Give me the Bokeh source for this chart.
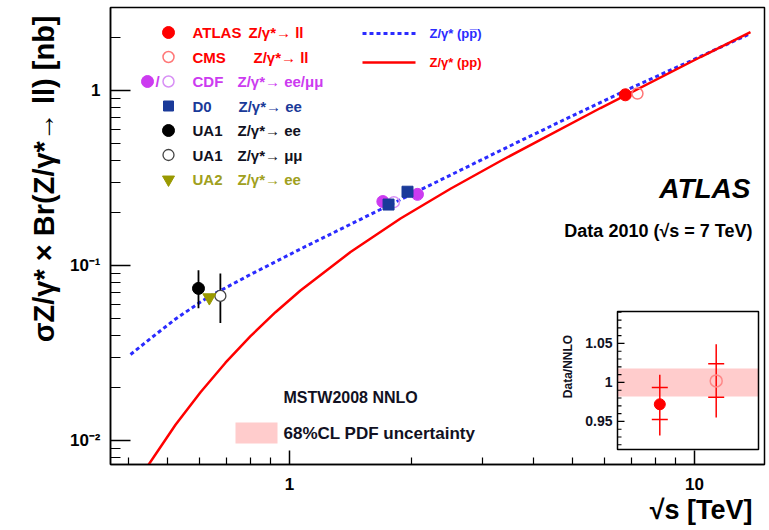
import math
from bokeh.plotting import figure
from bokeh.models import Range1d, LinearScale, FixedTicker, Title
from bokeh.core.properties import value
from bokeh.embed import file_html
from bokeh.resources import INLINE

# ---------------- data ----------------
# MSTW2008 NNLO theory: sqrt(s) [TeV] vs sigma x BR [nb]
ppbar_sqrts = [0.405, 0.4537, 0.5231, 0.6029, 0.6347, 0.8012, 1.0645, 1.776, 2.360, 3.319, 4.669, 6.754, 9.775, 13.75]
ppbar_xsec = [0.0310, 0.03827, 0.04947, 0.06185, 0.0666, 0.08884, 0.1243, 0.2232, 0.3080, 0.4542, 0.6650, 1.00, 1.474, 2.117]
pp_sqrts = [0.4456, 0.5231, 0.6029, 0.6950, 0.8012, 0.9235, 1.0645, 1.4148, 1.880, 2.498, 3.319, 5.862, 10.35, 13.75]
pp_xsec = [0.0071, 0.01231, 0.01888, 0.02784, 0.03945, 0.05408, 0.07197, 0.1194, 0.1856, 0.2746, 0.3956, 0.7943, 1.554, 2.159]

# measurements
atlas_x, atlas_y = [6.75], [0.945]
cms_x, cms_y = [7.23], [0.961]
cdf_ee_x, cdf_ee_y = [1.70, 2.07], [0.232, 0.255]
cdf_mm_x, cdf_mm_y = [1.81], [0.230]
d0_x, d0_y = [1.756, 1.956], [0.223, 0.264]
ua1_ee_x, ua1_ee_y, ua1_ee_lo, ua1_ee_hi = [0.596], [0.074], [0.057], [0.094]
ua1_mm_x, ua1_mm_y, ua1_mm_lo, ua1_mm_hi = [0.675], [0.067], [0.047], [0.090]
ua2_x, ua2_y = [0.634], [0.0656]

x_ticks = [1, 10]
x_tick_labels = {1: "1", 10: "10"}
x_minor = [0.4, 0.5, 0.6, 0.7, 0.8, 0.9, 2, 3, 4, 5, 6, 7, 8, 9]
y_ticks = [0.01, 0.1, 1]
y_tick_labels = {0.01: "10⁻²", 0.1: "10⁻¹", 1: "1"}
y_minor = [0.008, 0.009, 0.02, 0.03, 0.04, 0.05, 0.06, 0.07, 0.08, 0.09,
           0.2, 0.3, 0.4, 0.5, 0.6, 0.7, 0.8, 0.9, 2]

# inset: Data / NNLO
ratio_pos = [1, 2]            # ATLAS, CMS
ratio_val = [0.972, 1.002]
ratio_in_lo = [0.9525, 0.981]
ratio_in_hi = [0.9935, 1.024]
ratio_out_lo = [0.932, 0.955]
ratio_out_hi = [1.010, 1.049]
pdf_band = [0.982, 1.018]
inset_major = [0.95, 1.0, 1.05]
inset_major_labels = ["0.95", "1", "1.05"]
inset_minor = [0.92, 0.93, 0.94, 0.96, 0.97, 0.98, 0.99, 1.01, 1.02, 1.03, 1.04, 1.06, 1.07, 1.08, 1.09]

# ---------------- layout (page pixels) ----------------
FIG_W, FIG_H = 769, 530
FL, FR, FT, FB = 110, 764, 7, 464
IL, IR, IT, IB = 617, 758, 311, 449          # inset box
INSET_X = (0.25, 2.75)                       # values at IL, IR
INSET_Y = (0.914, 1.091)                     # values at IB, IT

FONT = "Liberation Sans"

p = figure(width=FIG_W, height=FIG_H, x_axis_type="log", y_axis_type="log",
           x_range=Range1d(0.3614, 14.89), y_range=Range1d(0.007292, 2.981),
           output_backend="svg", toolbar_location=None,
           min_border_left=FL, min_border_right=FIG_W - FR,
           min_border_top=FT, min_border_bottom=FIG_H - FB)
p.xgrid.visible = False
p.ygrid.visible = False
p.outline_line_color = "black"
p.outline_line_width = 1.5
p.background_fill_color = "white"
p.border_fill_color = "white"

kx = (INSET_X[1] - INSET_X[0]) / (IR - IL)
ky = (INSET_Y[1] - INSET_Y[0]) / (IB - IT)
p.extra_x_ranges = {"px": Range1d(FL, FR),
                    "ix": Range1d(INSET_X[0] - (IL - FL) * kx, INSET_X[1] + (FR - IR) * kx)}
p.extra_y_ranges = {"py": Range1d(FB, FT),
                    "iy": Range1d(INSET_Y[0] - (FB - IB) * ky, INSET_Y[1] + (IT - FT) * ky)}
p.extra_x_scales = {"px": LinearScale(), "ix": LinearScale()}
p.extra_y_scales = {"py": LinearScale(), "iy": LinearScale()}

for ax in (p.xaxis[0], p.yaxis[0]):
    ax.axis_line_width = 1.5
    ax.major_tick_line_width = 1.5
    ax.minor_tick_line_width = 1.2
    ax.major_tick_out = 0
    ax.minor_tick_out = 0
    ax.major_label_text_font = FONT
    ax.major_label_text_font_style = "bold"
    ax.major_label_text_font_size = "17px"
    ax.major_label_text_color = "black"
p.xaxis.ticker = FixedTicker(ticks=x_ticks, minor_ticks=x_minor)
p.xaxis.major_label_overrides = x_tick_labels
p.xaxis.major_tick_in = 14
p.xaxis.minor_tick_in = 7
p.xaxis.major_label_standoff = 13
p.yaxis.ticker = FixedTicker(ticks=y_ticks, minor_ticks=y_minor)
p.yaxis.major_label_overrides = y_tick_labels
p.yaxis.major_tick_in = 20
p.yaxis.minor_tick_in = 10
p.yaxis.major_label_standoff = 10

# axis titles (as side titles so they are not clipped by the frame)
p.add_layout(Title(text="σZ/γ* × Br(Z/γ*→ ll) [nb]", align="right", offset=8, standoff=14,
                   text_font=FONT, text_font_size="29px", text_font_style="bold",
                   text_color="black"), "left")
p.add_layout(Title(text="√s [TeV]", align="right", offset=12, standoff=0,
                   text_font=FONT, text_font_size="27px", text_font_style="bold",
                   text_color="black"), "below")


def txt(x, y, s, color="black", size=15, style="bold", align="left", angle=0.0):
    p.text(x=[x], y=[y], text=[s], x_range_name="px", y_range_name="py",
           text_color=color, text_font=value(FONT), text_font_size=f"{size}px",
           text_font_style=style, text_align=align, text_baseline="middle", angle=angle)


RED = "#ff0000"
BLUE = "#2b2bff"
MAG = "#cc3bf0"
MAG_L = "#d890f5"
NAVY = "#1a3a99"
OLIVE = "#999900"

# ---------------- theory curves ----------------
p.line(ppbar_sqrts, ppbar_xsec, line_color=BLUE, line_width=3, line_dash="4 3")
p.line(pp_sqrts, pp_xsec, line_color=RED, line_width=2.5)

# ---------------- measurements ----------------
p.segment(x0=ua1_ee_x, y0=ua1_ee_lo, x1=ua1_ee_x, y1=ua1_ee_hi, line_color="black", line_width=1.8)
p.segment(x0=ua1_mm_x, y0=ua1_mm_lo, x1=ua1_mm_x, y1=ua1_mm_hi, line_color="black", line_width=1.8)
p.scatter(ua1_ee_x, ua1_ee_y, marker="circle", size=12, fill_color="black", line_color="black")
p.scatter(ua1_mm_x, ua1_mm_y, marker="circle", size=11, fill_color="white", line_color="#444444", line_width=1.3)
p.scatter(ua2_x, ua2_y, marker="inverted_triangle", size=13, fill_color=OLIVE, line_color=OLIVE)
p.scatter(cdf_ee_x, cdf_ee_y, marker="circle", size=12, fill_color=MAG, line_color=MAG)
p.scatter(cdf_mm_x, cdf_mm_y, marker="circle", size=11, fill_alpha=0, line_color=MAG_L, line_width=1.5)
p.scatter(d0_x, d0_y, marker="square", size=11, fill_color=NAVY, line_color=NAVY)
p.scatter(atlas_x, atlas_y, marker="circle", size=12, fill_color=RED, line_color=RED)
p.scatter(cms_x, cms_y, marker="circle", size=11, fill_alpha=0, line_color="#ff7777", line_width=1.5)

# ---------------- legend (top left) ----------------
rows = [32, 56.5, 81, 105.5, 130, 154.5, 179]
MX = 168
p.scatter([MX], [rows[0]], x_range_name="px", y_range_name="py", marker="circle", size=12, fill_color=RED, line_color=RED)
p.scatter([MX], [rows[1]], x_range_name="px", y_range_name="py", marker="circle", size=11, fill_alpha=0, line_color="#ff7777", line_width=1.5)
p.scatter([147], [rows[2]], x_range_name="px", y_range_name="py", marker="circle", size=12, fill_color=MAG, line_color=MAG)
p.scatter([MX], [rows[2]], x_range_name="px", y_range_name="py", marker="circle", size=11, fill_alpha=0, line_color=MAG_L, line_width=1.5)
p.scatter([MX], [rows[3]], x_range_name="px", y_range_name="py", marker="square", size=10, fill_color=NAVY, line_color=NAVY)
p.scatter([MX], [rows[4]], x_range_name="px", y_range_name="py", marker="circle", size=12, fill_color="black", line_color="black")
p.scatter([MX], [rows[5]], x_range_name="px", y_range_name="py", marker="circle", size=11, fill_color="white", line_color="#444444", line_width=1.3)
p.scatter([MX], [rows[6]], x_range_name="px", y_range_name="py", marker="inverted_triangle", size=12, fill_color=OLIVE, line_color=OLIVE)
txt(157, rows[2], "/", MAG, 15, align="center")

names = ["ATLAS", "CMS", "CDF", "D0", "UA1", "UA1", "UA2"]
procs = ["Z/γ*→ ll", "Z/γ*→ ll", "Z/γ*→ ee/μμ", "Z/γ*→ ee", "Z/γ*→ ee", "Z/γ*→ μμ", "Z/γ*→ ee"]
proc_x = [248, 253, 237, 238, 237, 237, 237]
cols = [RED, RED, MAG, NAVY, "#111122", "#111122", "#a0a020"]
for i in range(7):
    txt(192, rows[i], names[i], cols[i], 15)
    txt(proc_x[i], rows[i], procs[i], cols[i], 15)

# curve legend
p.segment(x0=[362], y0=[33], x1=[415], y1=[33], x_range_name="px", y_range_name="py",
          line_color=BLUE, line_width=3, line_dash="4 3")
p.segment(x0=[362], y0=[62], x1=[415], y1=[62], x_range_name="px", y_range_name="py",
          line_color=RED, line_width=2.5)
txt(429, 33, "Z/γ* (pp\u0305)", BLUE, 13)
txt(429, 62, "Z/γ* (pp)", RED, 13)

# ATLAS label
txt(750, 188, "ATLAS", "black", 28, style="bold italic", align="right")
txt(752, 230, "Data 2010 (√s = 7 TeV)", "black", 18, align="right")

# PDF uncertainty legend
txt(283, 397, "MSTW2008 NNLO", "#111122", 16)
p.quad(left=[235], right=[277], top=[422], bottom=[443], x_range_name="px", y_range_name="py",
       fill_color="#ffcccc", line_color=None)
txt(283, 433, "68%CL PDF uncertainty", "#111122", 17)

# ---------------- inset ----------------
p.quad(left=[IL], right=[IR], top=[IT], bottom=[IB], x_range_name="px", y_range_name="py",
       fill_color="white", line_color=None)
p.quad(left=[IL], right=[IR], bottom=[pdf_band[0]], top=[pdf_band[1]], x_range_name="px",
       y_range_name="iy", fill_color="#ffcccc", line_color=None)
p.segment(x0=[IL] * len(inset_major), y0=inset_major, x1=[IL + 7] * len(inset_major), y1=inset_major,
          x_range_name="px", y_range_name="iy", line_color="black", line_width=1.3)
p.segment(x0=[IL] * len(inset_minor), y0=inset_minor, x1=[IL + 4] * len(inset_minor), y1=inset_minor,
          x_range_name="px", y_range_name="iy", line_color="black", line_width=1.1)
p.text(x=[IL - 5] * 3, y=inset_major, text=inset_major_labels, x_range_name="px", y_range_name="iy",
       text_font=value(FONT), text_font_size="14px", text_font_style="bold",
       text_align="right", text_baseline="middle", text_color="#111122")
p.quad(left=[IL], right=[IR], top=[IT], bottom=[IB], x_range_name="px", y_range_name="py",
       fill_alpha=0, line_color="black", line_width=1.5)
txt(567, 366, "Data/NNLO", "#111122", 12, align="center", angle=math.pi / 2)

p.segment(x0=ratio_pos, y0=ratio_out_lo, x1=ratio_pos, y1=ratio_out_hi, x_range_name="ix",
          y_range_name="iy", line_color=RED, line_width=1.5)
p.scatter(ratio_pos + ratio_pos, ratio_in_lo + ratio_in_hi, marker="dash", size=16,
          x_range_name="ix", y_range_name="iy", line_color=RED, line_width=1.5)
p.scatter(ratio_pos[:1], ratio_val[:1], marker="circle", size=11, x_range_name="ix", y_range_name="iy",
          fill_color=RED, line_color=RED)
p.scatter(ratio_pos[1:], ratio_val[1:], marker="circle", size=12, x_range_name="ix", y_range_name="iy",
          fill_alpha=0, line_color="#ff8888", line_width=1.5)

open("out.html", "w").write(file_html(p, INLINE))
